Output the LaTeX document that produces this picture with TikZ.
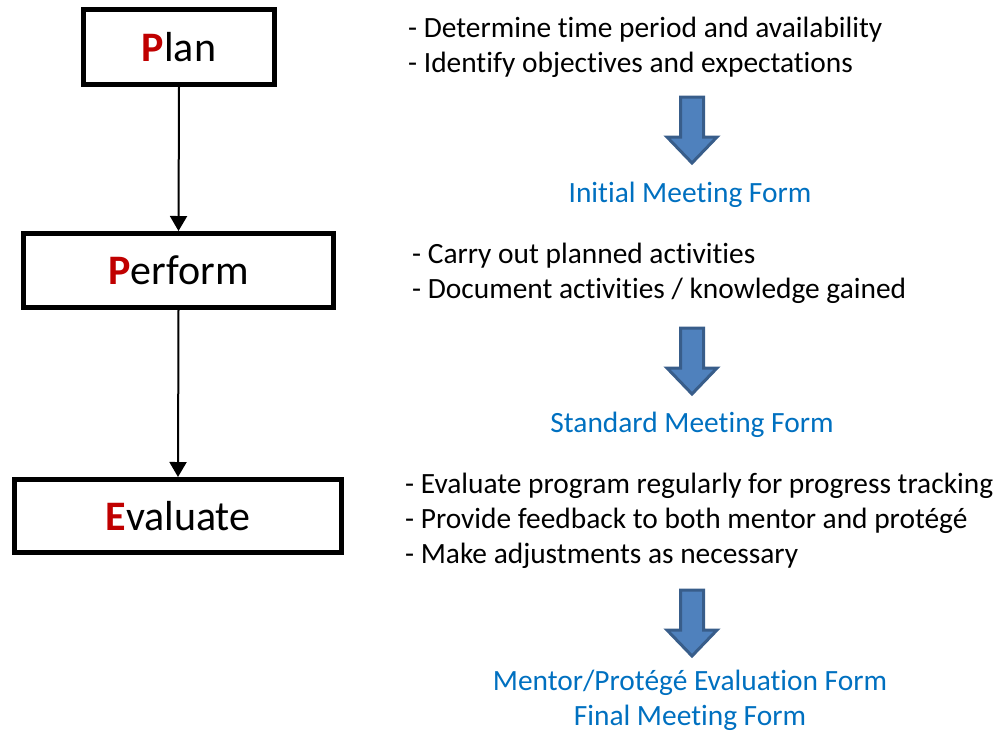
\documentclass[tikz,border=0pt]{standalone}
\usepackage{fontspec}
\setmainfont{Carlito}[Ligatures=CommonOff]
\usetikzlibrary{arrows.meta}
\definecolor{pred}{HTML}{C00000}
\definecolor{formblue}{HTML}{0070C0}
\definecolor{arrfill}{HTML}{4F81BD}
\definecolor{arrline}{HTML}{385D8A}
\newcommand{\bigdownarrow}[3]{% name, x, ytop
  \draw[bluearrow] (#2-11.5,#3) -- (#2+11.5,#3) -- (#2+11.5,#3+40) -- (#2+25,#3+40)
    -- (#2,#3+66) -- (#2-25,#3+40) -- (#2-11.5,#3+40) -- cycle;
  \coordinate (#1) at (#2,#3+33);}
\begin{document}
\begin{tikzpicture}[x=1pt,y=-1pt,
  stagebox/.style={draw, line width=5pt, inner sep=0pt, font=\fontsize{42}{48}\selectfont},
  bullet/.style={anchor=base west, inner sep=0pt, font=\fontsize{29.4}{35}\selectfont},
  formtext/.style={anchor=base, inner sep=0pt, text=formblue, font=\fontsize{29.4}{35}\selectfont},
  bluearrow/.style={fill=arrfill, draw=arrline, line width=3pt, line join=miter},
  flow/.style={line width=2pt, -{Triangle[width=17pt,length=15pt]}}]
\useasboundingbox (0,0) rectangle (1005,732);
\node[stagebox, minimum width=191pt, minimum height=75pt] (plan) at (179,47) {\textcolor{pred}{\textbf{P}}lan};
\node[stagebox, minimum width=310pt, minimum height=74pt] (perform) at (178.5,270.5) {\textcolor{pred}{\textbf{P}}erform};
\node[stagebox, minimum width=327pt, minimum height=73pt] (evaluate) at (178,516) {\textcolor{pred}{\textbf{E}}valuate};
\draw[flow] (plan.south) -- (perform.north);
\draw[flow] (perform.south) -- (evaluate.north);

\node[bullet] (b11) at (408,37) {- Determine time period and availability};
\node[bullet] (b12) at (408,72) {- Identify objectives and expectations};
\bigdownarrow{a1}{692}{97}
\node[formtext] (f1) at (690,202) {Initial Meeting Form};

\node[bullet] (b21) at (412,263) {- Carry out planned activities};
\node[bullet] (b22) at (412,298) {- Document activities / knowledge gained};
\bigdownarrow{a2}{692}{328}
\node[formtext] (f2) at (692,432) {Standard Meeting Form};

\node[bullet] (b31) at (405,493) {- Evaluate program regularly for progress tracking};
\node[bullet] (b32) at (405,528) {- Provide feedback to both mentor and protégé};
\node[bullet] (b33) at (405,563) {- Make adjustments as necessary};
\bigdownarrow{a3}{692}{590}
\node[formtext] (f31) at (690,690) {Mentor/Protégé Evaluation Form};
\node[formtext] (f32) at (690,725) {Final Meeting Form};
\end{tikzpicture}
\end{document}
